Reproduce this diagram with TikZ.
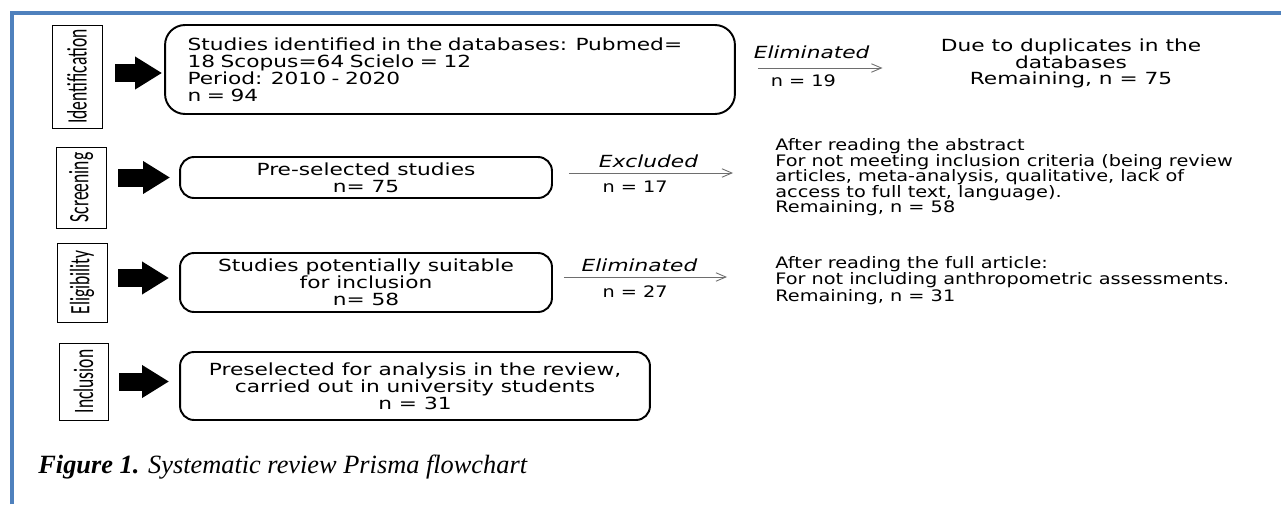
\documentclass[tikz,border=0pt]{standalone}
\usepackage{fontspec}
\setmainfont{DejaVu Sans}[FakeStretch=1.22]
\newfontfamily\widefont{DejaVu Sans}[FakeStretch=1.3]
\newfontfamily\stagefont{Carlito}
\newfontfamily\capfont{Liberation Serif}
\usetikzlibrary{positioning,arrows.meta}
\definecolor{frameblue}{HTML}{4F81BD}
\definecolor{thingray}{HTML}{6E6E6E}
\newcommand{\boxfont}{\widefont\fontsize{9.5}{9.6}\selectfont}
\newcommand{\notefont}{\fontsize{9}{9.4}\selectfont}
\newcommand{\stagetext}[1]{\scalebox{1}[1.6]{#1}}
\tikzset{
  stage/.style={draw, line width=0.5pt, rotate=90, inner sep=0pt,
    font=\stagefont\fontsize{10}{12}\selectfont},
  flowbox/.style={draw, line width=1.1pt, rounded corners=0.28cm, align=center,
    inner sep=0pt, font=\boxfont},
  note/.style={inner sep=0pt, font=\notefont},
  blockarr/.style={line width=0.36cm, -{Triangle[width=0.62cm,length=0.54cm]}},
  thinarr/.style={draw=thingray, line width=0.5pt,
    -{Straight Barb[length=0.2cm,width=0.17cm]}},
  why/.style={inner sep=0pt, font=\boxfont\itshape},
  count/.style={inner sep=0pt, font=\notefont}
}

\begin{document}
\begin{tikzpicture}[x=0.02cm, y=-0.02cm]
  \useasboundingbox (0,0) rectangle (1281,504);
  \draw[frameblue, line width=0.08cm] (12,504) -- (12,13) -- (1281,13);

  % stages
  \node[stage, minimum width=2.06cm, minimum height=1.0cm] (ident) at (77,76.5) {\stagetext{Identification}};
  \node[stage, minimum width=1.62cm, minimum height=1.0cm] (screen) at (81,187.5) {\stagetext{Screening}};
  \node[stage, minimum width=1.58cm, minimum height=1.0cm] (elig) at (82,282.5) {\stagetext{Eligibility}};
  \node[stage, minimum width=1.54cm, minimum height=0.98cm] (incl) at (83.5,381.5) {\stagetext{Inclusion}};

  % boxes
  \node[flowbox, align=left, text width=10.5cm, rounded corners=0.4cm, minimum width=11.4cm, minimum height=1.78cm] (found) at (450,69.5)
    {Studies identified in the databases: Pubmed=\\18 Scopus=64 Scielo = 12\\Period: 2010 - 2020\\n = 94};
  \node[flowbox, minimum width=7.44cm, minimum height=0.82cm] (presel) at (366,177.5)
    {Pre-selected studies\\n= 75};
  \node[flowbox, minimum width=7.44cm, minimum height=1.18cm] (suit) at (366,282.5)
    {Studies potentially suitable\\for inclusion\\n= 58};
  \node[flowbox, minimum width=9.4cm, minimum height=1.36cm] (final) at (415,386)
    {Preselected for analysis in the review,\\carried out in university students\\n = 31};

  % reasons
  \node[note, align=center, font=\boxfont] (dup) at (1071,63.5)
    {Due to duplicates in the\\databases\\Remaining, n = 75};
  \node[note, align=left, anchor=west, font=\fontsize{9}{8.8}\selectfont] (abstr) at (775,177.5)
    {After reading the abstract\\For not meeting inclusion criteria (being review\\articles, meta-analysis, qualitative, lack of\\access to full text, language).\\Remaining, n = 58};
  \node[note, align=left, anchor=west] (fullart) at (775,280.5)
    {After reading the full article:\\For not including anthropometric assessments.\\Remaining, n = 31};

  \node[anchor=west, inner sep=0pt, font=\capfont\fontsize{15}{18}\selectfont] (cap) at (38,467)
    {\textbf{\textit{Figure 1.}} \textit{Systematic review Prisma flowchart}};

  % stage arrows
  \draw[blockarr, shorten <=0.26cm, shorten >=0.04cm] ([yshift=0.07cm]ident.south) -- ([yshift=0.07cm]ident.south -| found.west);
  \draw[blockarr, shorten <=0.24cm, shorten >=0.18cm] (screen.south |- presel.west) -- (presel.west);
  \draw[blockarr, shorten <=0.22cm, shorten >=0.2cm] ([yshift=0.09cm]elig.south |- suit.west) -- ([yshift=0.09cm]suit.west);
  \draw[blockarr, shorten <=0.22cm, shorten >=0.2cm] (incl.south) -- (incl.south -| final.west);

  % removed records
  \draw[thinarr, shorten <=0.44cm, shorten >=1.16cm] ([yshift=0.03cm]found.east) -- ([yshift=0.03cm]found.east -| dup.west)
    node[why, pos=0.37, above=5pt] {Eliminated}
    node[count, pos=0.33, below=3.5pt] {n = 19};
  \draw[thinarr, shorten <=0.32cm, shorten >=0.84cm] ([yshift=0.09cm]presel.east) -- ([yshift=0.09cm]presel.east -| abstr.west)
    node[why, pos=0.43, above=2.5pt] {Excluded}
    node[count, pos=0.37, below=4pt] {n = 17};
  \draw[thinarr, shorten <=0.22cm, shorten >=0.96cm] ([yshift=0.11cm]suit.east) -- ([yshift=0.11cm]suit.east -| fullart.west)
    node[why, pos=0.39, above=2.5pt] {Eliminated}
    node[count, pos=0.37, below=4.5pt] {n = 27};
\end{tikzpicture}
\end{document}
